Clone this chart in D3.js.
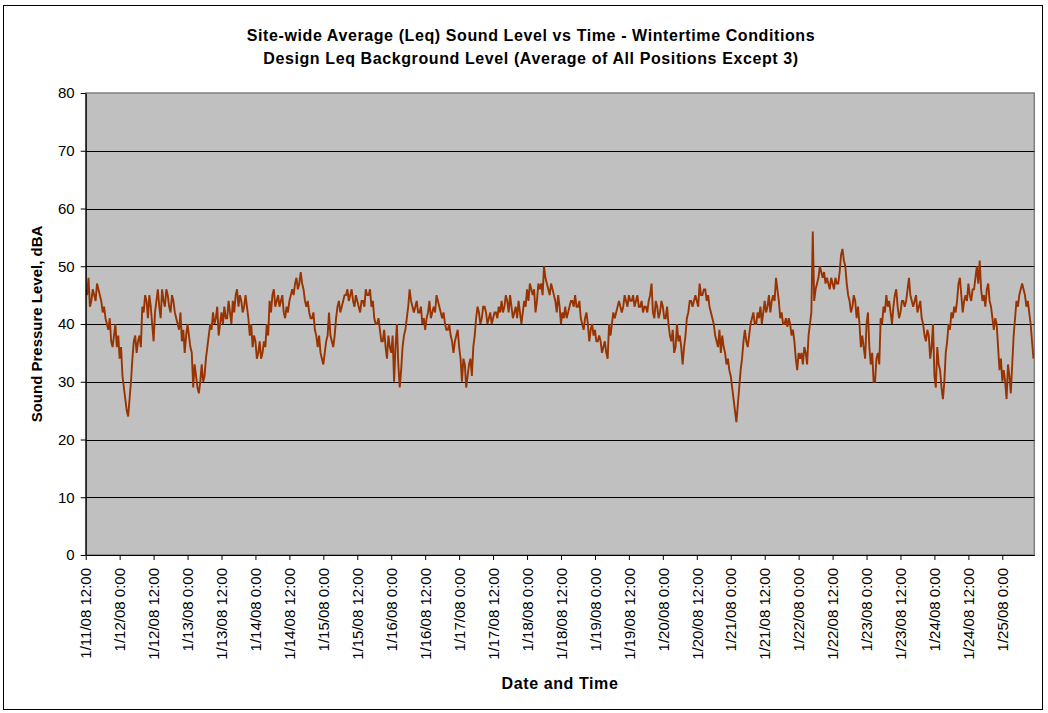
<!DOCTYPE html>
<html><head><meta charset="utf-8">
<script src="https://cdn.jsdelivr.net/npm/d3@7"></script>
<style>
body{margin:0;background:#fff}
svg{display:block}
text{font-family:"Liberation Sans",Arial,sans-serif;fill:#000}
</style>
</head><body>
<svg id="chart" width="1048" height="713"></svg>
<script>
const titleLines = [
  "Site-wide Average (Leq) Sound Level vs Time - Wintertime Conditions",
  "Design Leq Background Level (Average of All Positions Except 3)"
];
const yTitle = "Sound Pressure Level, dBA";
const xTitle = "Date and Time";
const yTicks = [0, 10, 20, 30, 40, 50, 60, 70, 80];
const startTime = new Date(2008, 0, 11, 12, 0);
const stepMinutes = 30;
const spanHours = 335.3;
// site-wide Leq (dBA) every 30 minutes, starting 1/11/08 12:00
const levels = [
  46,45,48,43,44,46,45,44,47,46,45,44,42,43,41,40,39,41,37,36,
  38,40,36,38,34,36,31,29,27,25,24,27,30,34,37,38,35,37,38,36,
  43,42,45,44,41,45,43,40,37,42,44,46,43,41,46,44,43,46,45,43,
  42,45,44,42,41,40,39,42,37,39,35,38,40,38,36,35,29,33,31,29,
  28,30,33,30,31,34,36,38,40,39,42,40,41,43,38,40,42,40,43,41,
  41,44,42,40,44,42,45,46,43,45,44,42,43,45,43,41,38,40,36,38,
  37,34,35,37,34,35,37,36,40,38,44,42,45,46,43,44,
  45,43,44,45,42,41,43,42,44,45,46,45,47,48,46,47,49,47,46,44,
  43,44,42,41,41,42,39,38,36,38,35,34,33,35,37,38,42,38,37,36,
  38,41,43,44,42,43,44,45,45,46,44,45,46,44,43,45,44,43,42,44,
  44,43,46,45,45,46,43,44,41,40,40,41,39,37,37,39,36,34,38,36,
  35,38,30,36,40,33,29,32,36,38,39,41,43,46,44,43,42,43,44,42,
  42,43,40,41,39,41,42,44,41,42,43,42,45,44,43,42,41,42,40,39,
  39,40,38,37,35,37,38,39,36,34,30,34,33,29,
  31,33,34,31,36,38,41,43,42,40,41,43,43,42,40,41,42,40,41,42,
  42,41,43,42,44,42,43,45,44,42,45,43,41,42,43,41,44,42,40,42,
  44,43,46,44,47,46,45,46,42,44,47,46,47,45,50,48,47,46,45,47,
  46,45,44,42,45,43,40,42,41,43,41,42,43,44,44,43,45,43,43,44,
  41,40,39,41,42,40,37,39,40,38,39,37,37,38,37,35,36,37,35,34,
  40,38,40,42,41,42,43,44,43,42,43,45,44,43,45,44,44,45,43,44,
  45,43,43,44,42,43,43,42,44,45,47,42,41,44,
  43,41,42,44,43,41,41,43,40,38,37,39,35,36,40,37,38,36,33,36,
  38,41,42,44,44,43,44,45,44,43,47,45,45,46,46,44,45,43,42,41,
  40,38,37,36,39,35,38,36,35,33,34,32,31,29,27,25,23,26,29,32,
  34,37,39,37,36,38,40,41,42,40,40,42,41,43,40,42,44,42,43,45,
  42,44,45,44,48,46,44,41,42,40,40,41,39.5,41,40,38,39,37,34,32,
  35,34,35,33,36,35,33,38,40,42,56,44,46,47,48,50,49,48,49,47,
  48,47,46,48,47,46,48,47,47,49,52,53,51,50,
  47,45,44,42,43,45,44,41,43,40,36,38,36,34,40,42,36,33,35,30,
  30,34,35,33,41,40,43,42,45,43,44,42,40,43,45,46,43,41,42,44,
  44,43,44,46,48,45,44,43,44,45,42,43,44,41,40,38,37,39,38,34,
  36,40,31,29,36,33,32,29,27,30,35,37,40,39,42,41,43,42,44,47,
  48,45,42,44,45,44,47,45,44,46,46,48,50,47,51,46,44,45,43,46,
  47,44,43,41,39,41,40,36,32,34,30,32,30,27,33,31,28,33,38,41,
  44,43,45,46,47,46,45,43,44,42,40,37,34
];

const svg = d3.select("#chart");
const m = {left: 85.7, right: 1034.3, top: 93, bottom: 555};

svg.append("rect").attr("x", 3.5).attr("y", 5.5).attr("width", 1039).attr("height", 704)
  .attr("fill", "#fff").attr("stroke", "#000").attr("stroke-width", 1);

const data = levels.map((v, i) => ({t: d3.timeMinute.offset(startTime, i * stepMinutes), v}));
const endTime = new Date(startTime.getTime() + spanHours * 3600e3);

const x = d3.scaleTime().domain([startTime, endTime]).range([m.left, m.right]);
const y = d3.scaleLinear().domain([0, 80]).range([m.bottom, m.top]);

// plot area
svg.append("rect").attr("x", m.left).attr("y", m.top)
  .attr("width", m.right - m.left).attr("height", m.bottom - m.top)
  .attr("fill", "#c0c0c0").attr("stroke", "#808080").attr("stroke-width", 1.5);

// gridlines
svg.append("g").selectAll("line").data(yTicks.filter(d => d > 0 && d < 80)).join("line")
  .attr("x1", m.left).attr("x2", m.right)
  .attr("y1", d => Math.round(y(d)) + 0.5).attr("y2", d => Math.round(y(d)) + 0.5)
  .attr("stroke", "#000").attr("stroke-width", 1);

// line
svg.append("clipPath").attr("id", "plotclip").append("rect")
  .attr("x", m.left).attr("y", m.top).attr("width", m.right - m.left).attr("height", m.bottom - m.top);
svg.append("path").datum(data)
  .attr("clip-path", "url(#plotclip)")
  .attr("fill", "none").attr("stroke", "#993300").attr("stroke-width", 1.9)
  .attr("stroke-linejoin", "miter").attr("stroke-miterlimit", 3)
  .attr("d", d3.line().x(d => x(d.t)).y(d => y(d.v)));

// y axis
const yAxis = svg.append("g").attr("transform", `translate(${m.left},0)`)
  .call(d3.axisLeft(y).tickValues(yTicks).tickSize(5).tickPadding(6).tickSizeOuter(0));
yAxis.select(".domain").attr("stroke", "#000").attr("stroke-width", 1.2);
yAxis.selectAll("text").style("font-size", "15px").style("font-family", "'Liberation Sans', Arial, sans-serif");

// x axis
const fmt = d => `${d.getMonth() + 1}/${d.getDate()}/${String(d.getFullYear()).slice(2)} ${d.getHours()}:${d3.format("02")(d.getMinutes())}`;
const xTickVals = d3.timeHour.every(12).range(startTime, endTime);
const xAxis = svg.append("g").attr("transform", `translate(0,${m.bottom})`)
  .call(d3.axisBottom(x).tickValues(xTickVals).tickFormat(fmt).tickSize(5).tickSizeOuter(0));
xAxis.select(".domain").attr("stroke", "#000").attr("stroke-width", 1.2);
xAxis.selectAll("text")
  .style("font-size", "15px").style("font-family", "'Liberation Sans', Arial, sans-serif")
  .attr("transform", "rotate(-90)").attr("text-anchor", "end")
  .attr("x", -13).attr("y", 0).attr("dy", "0.35em");

// titles
svg.append("g").selectAll("text").data(titleLines).join("text")
  .attr("x", 531).attr("y", (d, i) => 41 + i * 23)
  .attr("text-anchor", "middle").style("font-size", "16px").style("font-weight", "bold")
  .style("letter-spacing", "0.6px")
  .text(d => d);

svg.append("text").attr("transform", `translate(42,${(m.top + m.bottom) / 2}) rotate(-90)`)
  .attr("text-anchor", "middle").style("font-size", "15px").style("font-weight", "bold")
  .text(yTitle);

svg.append("text").attr("x", (m.left + m.right) / 2).attr("y", 689)
  .attr("text-anchor", "middle").style("font-size", "16px").style("font-weight", "bold")
  .style("letter-spacing", "0.6px")
  .text(xTitle);
</script>
</body></html>
